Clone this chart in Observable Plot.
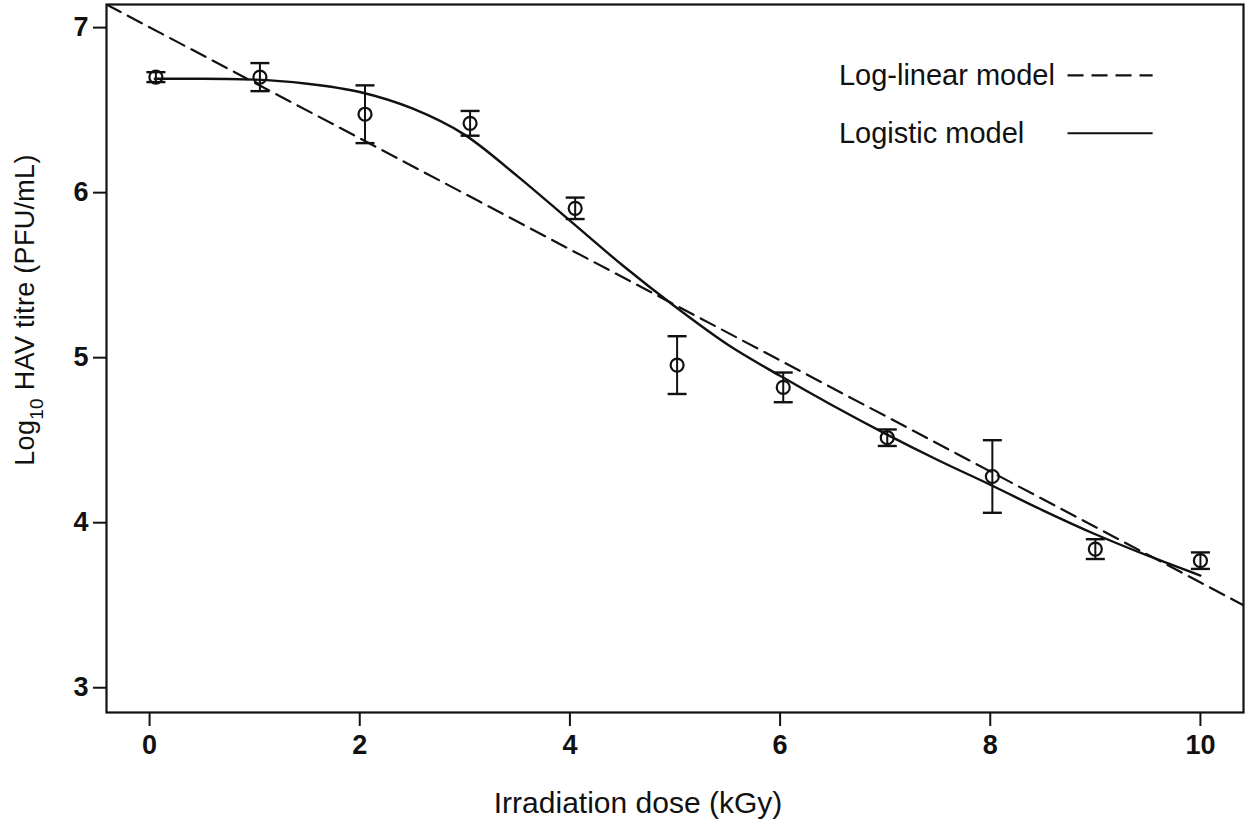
<!DOCTYPE html>
<html><head><meta charset="utf-8">
<script src="https://cdn.jsdelivr.net/npm/d3@7"></script>
<script src="https://cdn.jsdelivr.net/npm/@observablehq/plot@0.6"></script>
<style>
body{margin:0;background:#fff}
svg{font-family:"Liberation Sans",Arial,sans-serif}
</style>
</head><body><div id="chart"></div>
<script>
// Observed data
const doses  = [0.06, 1.05, 2.05, 3.05, 4.05, 5.02, 6.03, 7.02, 8.02, 9.0, 10.0];
const titres = [6.70, 6.70, 6.475, 6.42, 5.905, 4.955, 4.82, 4.515, 4.28, 3.84, 3.77];
const errors = [0.03, 0.085, 0.175, 0.075, 0.065, 0.175, 0.09, 0.05, 0.22, 0.06, 0.05];
// Logistic model curve
const logisticDose  = [0.05, 0.5, 1, 1.5, 2, 2.5, 3, 3.5, 4, 4.5, 5, 5.5, 6, 6.5, 7, 7.5, 8, 8.5, 9, 9.5, 10];
const logisticTitre = [6.69, 6.69, 6.685, 6.66, 6.61, 6.51, 6.35, 6.10, 5.83, 5.56, 5.31, 5.08, 4.89, 4.71, 4.54, 4.38, 4.23, 4.075, 3.93, 3.80, 3.68];
// Log-linear model line (endpoints read at frame edges)
const loglinDose  = [-0.41, 10.41];
const loglinTitre = [7.14, 3.50];
// Ticks
const xTicks = [0, 2, 4, 6, 8, 10];
const yTicks = [3, 4, 5, 6, 7];
// Legend
const legendLabels = ["Log-linear model", "Logistic model"];
const legendY = [6.71, 6.36];
const legendTextX = 6.56;
const legendLineX = [8.74, 9.55];

const points = doses.map((d, i) => ({dose: d, titre: titres[i], lo: titres[i] - errors[i], hi: titres[i] + errors[i]}));
const logistic = logisticDose.map((d, i) => ({dose: d, titre: logisticTitre[i]}));
const loglin = loglinDose.map((d, i) => ({dose: d, titre: loglinTitre[i]}));
const legend = legendLabels.map((l, i) => ({label: l, y: legendY[i]}));

const cap = {draw(ctx, size) { const r = Math.sqrt(size / Math.PI); ctx.moveTo(-r, 0); ctx.lineTo(r, 0); }};
const ink = "#111";

const plot = Plot.plot({
  width: 1250,
  height: 826,
  marginLeft: 106,
  marginRight: 7,
  marginTop: 4,
  marginBottom: 114,
  style: {fontFamily: '"Liberation Sans", Arial, sans-serif', color: ink, background: "#fff"},
  x: {domain: [-0.41, 10.41]},
  y: {domain: [2.85, 7.14]},
  marks: [
    Plot.axisX({ticks: xTicks, tickSize: 14, tickPadding: 8, fontSize: 27, fontWeight: "bold", label: null, tickFormat: d => d, strokeWidth: 2}),
    Plot.axisY({ticks: yTicks, tickSize: 13, tickPadding: 5, fontSize: 27, fontWeight: "bold", label: null, tickFormat: d => d, strokeWidth: 2}),
    Plot.text(["Irradiation dose (kGy)"], {frameAnchor: "bottom", dx: -37, dy: 91, fontSize: 30, lineAnchor: "middle", fill: ink, letterSpacing: "0.7px"}),
    Plot.line(loglin, {x: "dose", y: "titre", stroke: ink, strokeWidth: 2.2, strokeDasharray: "16,8", clip: true}),
    Plot.line(logistic, {x: "dose", y: "titre", stroke: ink, strokeWidth: 2.4, curve: "monotone-x"}),
    Plot.ruleX(points, {x: "dose", y1: "lo", y2: "hi", stroke: ink, strokeWidth: 2}),
    Plot.dot(points, {x: "dose", y: "lo", symbol: cap, r: 9.5, stroke: ink, strokeWidth: 2.4}),
    Plot.dot(points, {x: "dose", y: "hi", symbol: cap, r: 9.5, stroke: ink, strokeWidth: 2.4}),
    Plot.dot(points, {x: "dose", y: "titre", r: 6.5, stroke: ink, strokeWidth: 2.2, fill: "none"}),
    Plot.text(legend, {x: () => legendTextX, y: "y", text: "label", textAnchor: "start", fontSize: 29, fill: ink, letterSpacing: "0.6px"}),
    Plot.ruleY(legend.slice(0, 1), {y: "y", x1: () => legendLineX[0], x2: () => legendLineX[1], stroke: ink, strokeWidth: 2.2, strokeDasharray: "16,8"}),
    Plot.ruleY(legend.slice(1), {y: "y", x1: () => legendLineX[0], x2: () => legendLineX[1], stroke: ink, strokeWidth: 2.2}),
    Plot.frame({stroke: ink, strokeWidth: 2.2})
  ]
});

const svg = d3.select(plot);
const t = svg.append("text")
  .attr("transform", "translate(34,310) rotate(-90)")
  .attr("text-anchor", "middle")
  .attr("font-size", 27)
  .attr("letter-spacing", "0.3px")
  .attr("fill", ink);
t.append("tspan").text("Log");
t.append("tspan").attr("font-size", 19).attr("dy", 9).text("10");
t.append("tspan").attr("dy", -9).text(" HAV titre (PFU/mL)");

document.getElementById("chart").appendChild(plot);
</script>
</body></html>
